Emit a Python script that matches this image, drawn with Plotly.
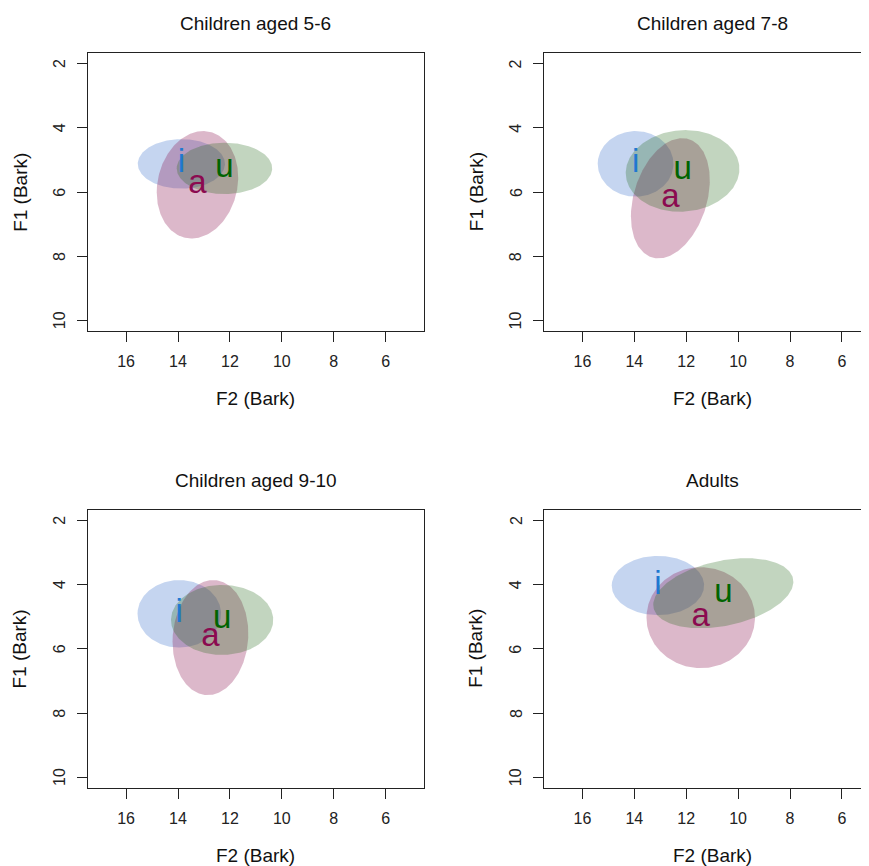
import numpy as np
import plotly.graph_objects as go

# ---------------- data ----------------
panels = ["Children aged 5-6", "Children aged 7-8", "Children aged 9-10", "Adults"]
vowels = ["i", "a", "u"]

# ellipse centres: F2 (x, Bark) and F1 (y, Bark)
f2_mean = {"i": [13.87, 13.95, 13.95, 13.09],
           "a": [13.25, 12.61, 12.75, 11.44],
           "u": [12.21, 12.14, 12.30, 10.57]}
f1_mean = {"i": [5.12, 5.12, 4.91, 4.03],
           "a": [5.77, 6.19, 5.65, 5.03],
           "u": [5.26, 5.34, 5.10, 4.27]}
# half extents of each ellipse along F2 and F1, and their correlation
f2_half = {"i": [1.68, 1.46, 1.61, 1.78],
           "a": [1.57, 1.52, 1.46, 2.09],
           "u": [1.84, 2.19, 1.97, 2.70]}
f1_half = {"i": [0.77, 1.02, 1.05, 0.92],
           "a": [1.67, 1.87, 1.79, 1.57],
           "u": [0.80, 1.27, 1.09, 1.09]}
rho = {"i": [0.0, 0.0, 0.0, 0.0],
       "a": [0.14, 0.30, 0.07, 0.0],
       "u": [0.0, 0.05, 0.0, 0.33]}

x_ticks = [16, 14, 12, 10, 8, 6]
y_ticks = [2, 4, 6, 8, 10]
x_lim = (17, 5)
y_lim = (2, 10)
x_title = "F2 (Bark)"
y_title = "F1 (Bark)"

# ---------------- styles ----------------
fill_col = {"i": "rgba(40,100,200,0.27)",
            "a": "rgba(140,20,80,0.30)",
            "u": "rgba(30,100,20,0.27)"}
text_col = {"i": "#1f78d1", "a": "#8B0A50", "u": "#006400"}
draw_order = ["i", "a", "u"]
FONT = "Liberation Sans, Arial, Helvetica, sans-serif"
AX = "#222222"

OFF = 8                      # page body margin of the html page
W, H = 869 - OFF, 866 - OFF  # figure size so the page fits the window
# panel pixel geometry (window coordinates)
left_px = [87.7, 544.0, 87.7, 544.0]
top_px = [53.3, 53.3, 510.0, 510.0]
pw, ph = 336.3, 277.7

# R-style 4% padding of the limits
xr = (x_lim[0] + 0.04 * (x_lim[0] - x_lim[1]), x_lim[1] - 0.04 * (x_lim[0] - x_lim[1]))
yr = (y_lim[1] + 0.04 * (y_lim[1] - y_lim[0]), y_lim[0] - 0.04 * (y_lim[1] - y_lim[0]))

fig = go.Figure()
t = np.linspace(0, 2 * np.pi, 240)
annotations = []

for k in range(4):
    xa = "x" if k == 0 else f"x{k+1}"
    ya = "y" if k == 0 else f"y{k+1}"
    for v in draw_order:
        a = np.arccos(rho[v][k])
        ex = f2_mean[v][k] + f2_half[v][k] * np.cos(t)
        ey = f1_mean[v][k] + f1_half[v][k] * np.cos(t - a)
        fig.add_trace(go.Scatter(x=ex, y=ey, mode="lines", fill="toself",
                                 fillcolor=fill_col[v], line=dict(width=0),
                                 hoverinfo="skip", showlegend=False,
                                 xaxis=xa, yaxis=ya))
    for v in vowels:
        fig.add_trace(go.Scatter(x=[f2_mean[v][k]], y=[f1_mean[v][k]], mode="text",
                                 text=[v], textposition="middle center",
                                 textfont=dict(family=FONT, size=33, color=text_col[v]),
                                 hoverinfo="skip", showlegend=False,
                                 xaxis=xa, yaxis=ya))

    L, T = left_px[k] - OFF, top_px[k] - OFF
    R = min(L + pw, W)
    vis = (R - L) / pw
    x_range = [xr[0], xr[0] - (xr[0] - xr[1]) * vis]
    dx = [L / W, R / W]
    dy = [(H - (T + ph)) / H, (H - T) / H]
    right_col = k in (1, 3)

    axx = dict(domain=dx, range=x_range, anchor=ya, tickvals=x_ticks,
               ticks="outside", ticklen=10, tickwidth=1, tickcolor=AX,
               showline=True, linecolor=AX, linewidth=1, mirror=True,
               showgrid=False, zeroline=False, ticklabelstandoff=6,
               tickfont=dict(family=FONT, size=16, color="#222222"))
    axy = dict(domain=dy, range=list(yr), anchor=xa, tickvals=y_ticks,
               ticks="outside", ticklen=10, tickwidth=1, tickcolor=AX,
               showline=True, linecolor=AX, linewidth=1, mirror=not right_col,
               showgrid=False, zeroline=False, showticklabels=False)
    fig.update_layout({("xaxis" if k == 0 else f"xaxis{k+1}"): axx,
                       ("yaxis" if k == 0 else f"yaxis{k+1}"): axy})

    # rotated y tick labels (R style, parallel to the axis), placed on the y scale
    for yt in y_ticks:
        annotations.append(dict(text=str(yt), x=(L - 28.2) / W, y=yt,
                                xref="paper", yref=ya, showarrow=False, textangle=-90,
                                xanchor="center", yanchor="middle",
                                font=dict(family=FONT, size=16, color="#222222")))

    cx = L + pw / 2
    annotations.append(dict(text=panels[k], x=cx / W, y=(H - (T - 29.5)) / H,
                            xref="paper", yref="paper", showarrow=False,
                            xanchor="center", yanchor="middle",
                            font=dict(family=FONT, size=19, color="#111111")))
    annotations.append(dict(text=x_title, x=cx / W, y=(H - (T + ph + 68)) / H,
                            xref="paper", yref="paper", showarrow=False,
                            xanchor="center", yanchor="middle",
                            font=dict(family=FONT, size=19, color="#111111")))
    annotations.append(dict(text=y_title, x=(L - 68) / W, y=(H - (T + ph / 2)) / H,
                            xref="paper", yref="paper", showarrow=False, textangle=-90,
                            xanchor="center", yanchor="middle",
                            font=dict(family=FONT, size=19, color="#111111")))

fig.update_layout(width=W, height=H, margin=dict(l=0, r=0, t=0, b=0),
                  paper_bgcolor="white", plot_bgcolor="white",
                  annotations=annotations, showlegend=False)

fig.write_html("out.html")
